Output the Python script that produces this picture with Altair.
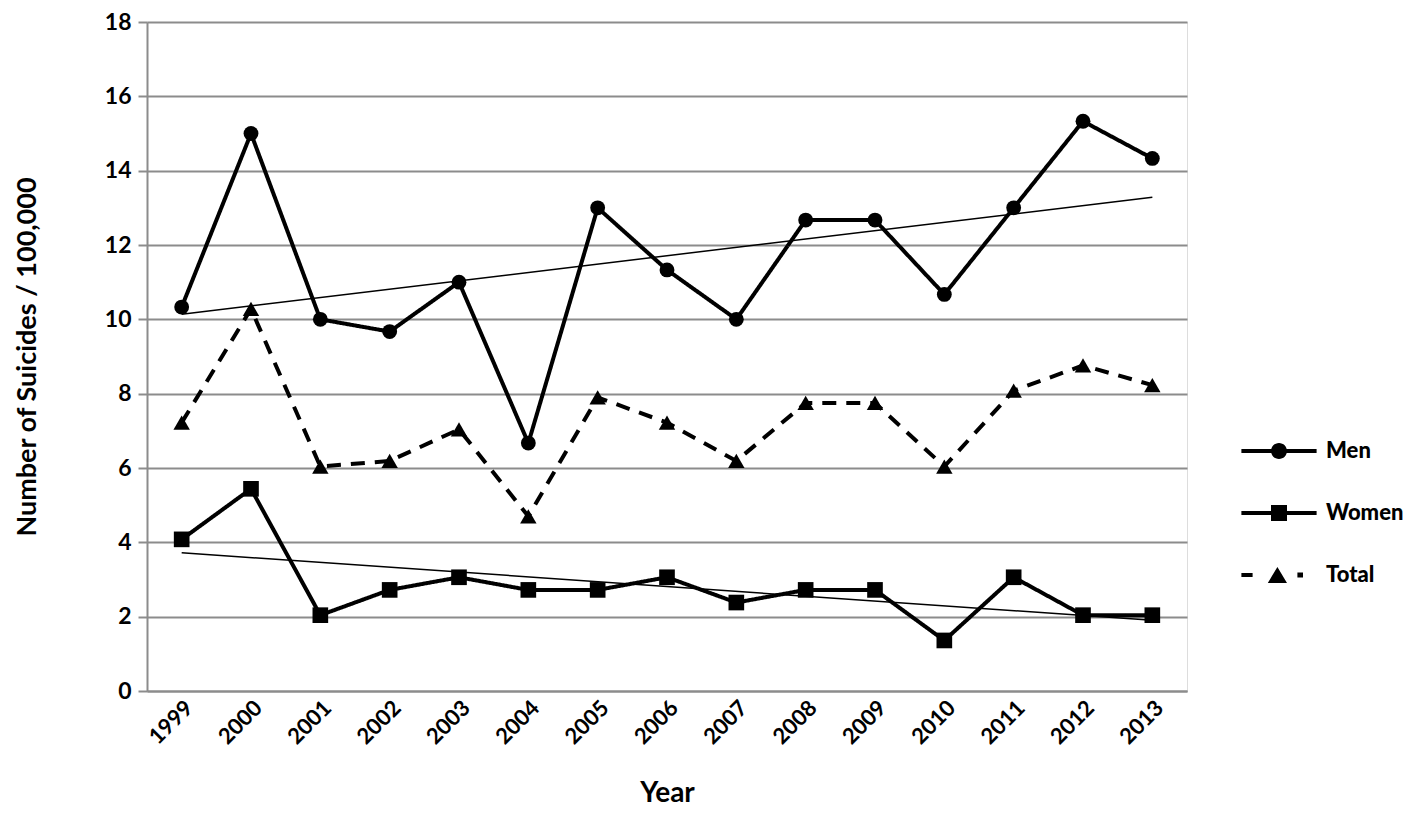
import altair as alt
import pandas as pd

years = list(range(1999, 2014))
men = [10.33, 15.0, 10.0, 9.67, 11.0, 6.67, 13.0, 11.33, 10.0, 12.67, 12.67, 10.67, 13.0, 15.33, 14.33]
women = [4.08, 5.44, 2.04, 2.72, 3.06, 2.72, 2.72, 3.06, 2.38, 2.72, 2.72, 1.36, 3.06, 2.04, 2.04]
total = [7.22, 10.28, 6.04, 6.19, 7.04, 4.70, 7.90, 7.22, 6.19, 7.75, 7.75, 6.04, 8.08, 8.76, 8.23]
series_names = ["Men", "Women", "Total"]
y_ticks = [0, 2, 4, 6, 8, 10, 12, 14, 16, 18]

rows = []
for name, vals in zip(series_names, [men, women, total]):
    for yr, v in zip(years, vals):
        rows.append({"year": yr, "value": v, "series": name})
df = pd.DataFrame(rows)

FONT = "Lato"
WEIGHT = "bold"
GRID = "#8c8c8c"

x_enc = alt.X(
    "year:Q",
    scale=alt.Scale(domain=[1998.5, 2013.5], nice=False, zero=False),
    axis=alt.Axis(
        values=years, format="d", grid=False, ticks=False,
        labelAngle=-45, labelAlign="right", labelBaseline="top",
        labelPadding=6, labelFontSize=22, labelFont=FONT, labelFontWeight=WEIGHT,
        labelColor="black", domainColor=GRID, domainWidth=2,
        title="Year", titleFont=FONT, titleFontSize=28, titleFontWeight=WEIGHT,
        titleColor="black", titlePadding=32,
    ),
)
y_enc = alt.Y(
    "value:Q",
    scale=alt.Scale(domain=[0, 18], nice=False),
    axis=alt.Axis(
        values=y_ticks, format="d", grid=True, gridColor=GRID, gridWidth=2,
        tickColor=GRID, tickWidth=2, tickSize=9, labelPadding=7,
        labelFontSize=23, labelFont=FONT, labelFontWeight=WEIGHT, labelColor="black",
        domainColor=GRID, domainWidth=2,
        title="Number of Suicides / 100,000", titleFont=FONT, titleFontSize=27,
        titleFontWeight=WEIGHT, titleColor="black", titlePadding=63,
    ),
)

base = alt.Chart(df)

lines = base.mark_line(color="black", strokeWidth=4).encode(
    x=x_enc, y=y_enc,
    strokeDash=alt.StrokeDash(
        "series:N",
        scale=alt.Scale(domain=series_names, range=[[1, 0], [1, 0], [14, 10]]),
        legend=None,
    ),
)

points = base.mark_point(filled=True, color="black", opacity=1).encode(
    x="year:Q", y="value:Q",
    shape=alt.Shape(
        "series:N",
        scale=alt.Scale(domain=series_names, range=["circle", "square", "triangle-up"]),
        legend=None,
    ),
    size=alt.Size(
        "series:N",
        scale=alt.Scale(domain=series_names, range=[220, 270, 260]),
        legend=None,
    ),
)

trend = base.transform_filter(
    alt.FieldOneOfPredicate(field="series", oneOf=["Men", "Women"])
).transform_regression(
    "year", "value", groupby=["series"], extent=[1999, 2013]
).mark_line(color="black", strokeWidth=1.5).encode(
    x="year:Q", y="value:Q", detail="series:N"
)

men_path = ("M-4.7,-0.25 H4.7 V0.25 H-4.7 Z "
            "M-1,0 A1,1 0 1,1 1,0 A1,1 0 1,1 -1,0 Z")
women_path = ("M-4.7,-0.25 H4.7 V0.25 H-4.7 Z "
              "M-1,-1 H1 V1 H-1 Z")
total_path = ("M-4.7,-0.25 H-3.3 V0.25 H-4.7 Z "
              "M-1.4,1 L-0.2,-1 L1,1 Z "
              "M2.3,-0.3 H3.0 V0.3 H2.3 Z")

legend_layer = base.mark_point(filled=True, opacity=0, size=256, color="black").encode(
    x="year:Q", y="value:Q",
    shape=alt.Shape(
        "series:N",
        scale=alt.Scale(domain=series_names, range=[men_path, women_path, total_path]),
        legend=alt.Legend(
            title=None, orient="none", legendX=1121, legendY=418,
            symbolSize=256, symbolOpacity=1, symbolFillColor="black",
            symbolStrokeColor="black", symbolStrokeWidth=0,
            labelFont=FONT, labelFontSize=22, labelFontWeight=900,
            labelColor="black", labelOffset=36, rowPadding=40, padding=0,
        ),
    ),
)

chart = alt.layer(lines, trend, points, legend_layer).resolve_scale(
    shape="independent"
).properties(
    width=1040, height=669,
    autosize=alt.AutoSizeParams(type="none"),
    padding={"left": 139, "top": 14, "right": 223, "bottom": 125},
).configure_view(stroke=None).configure(background="white")

chart.save("out.html", embed_options={"renderer": "svg", "actions": False})
